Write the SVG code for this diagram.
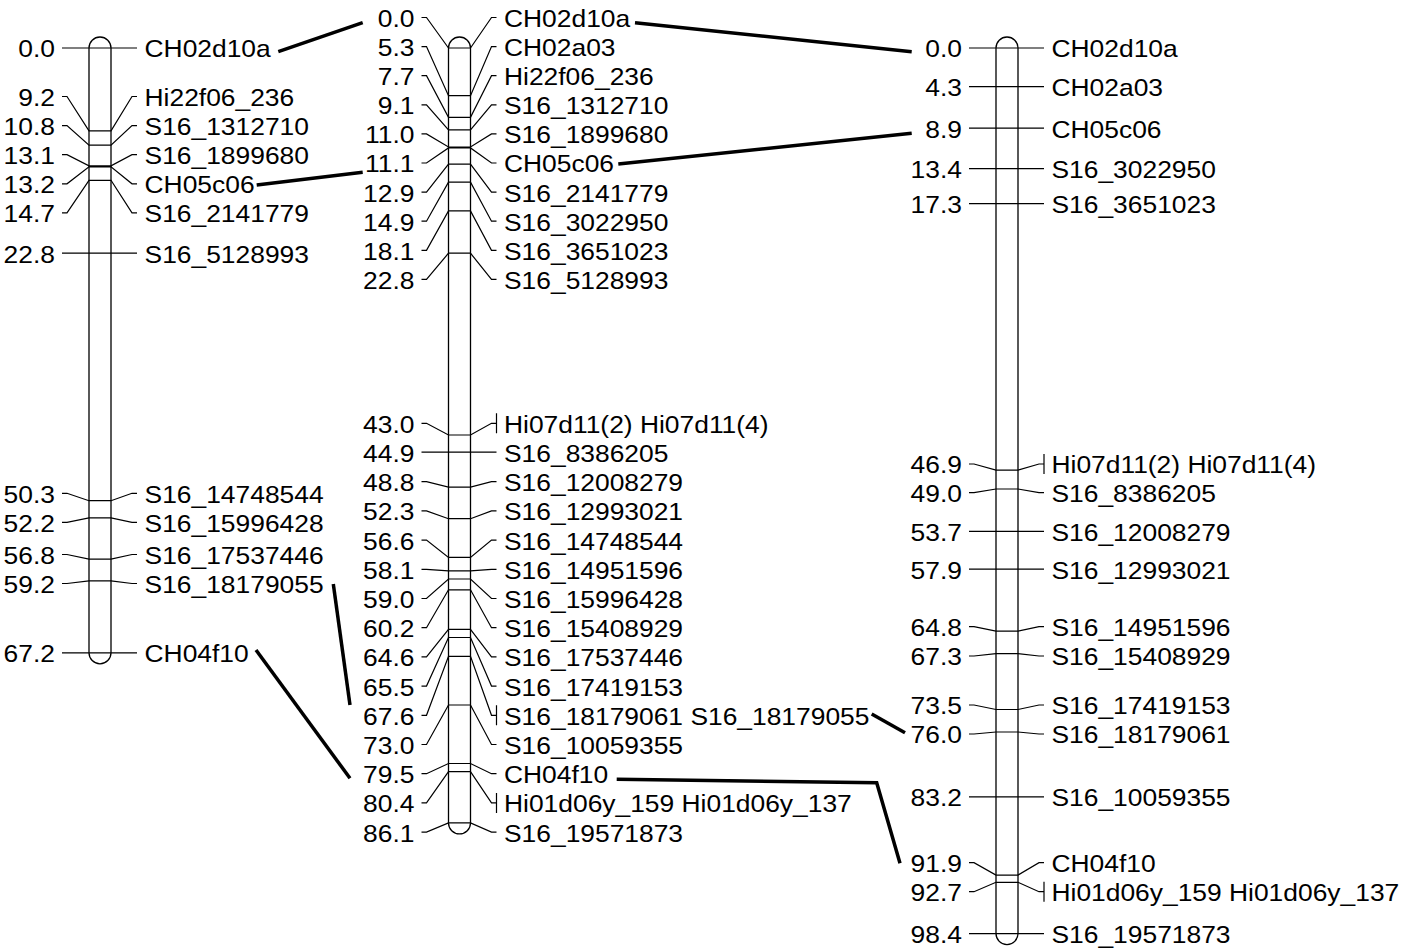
<svg xmlns="http://www.w3.org/2000/svg" width="1408" height="952" viewBox="0 0 1408 952">
<style>
text{font-family:"Liberation Sans",Arial,sans-serif;font-size:24px;fill:#000}
.n{text-anchor:end}
.l{text-anchor:start}
.chr{fill:#fff;stroke:#000;stroke-width:1.3}
.tk{fill:none;stroke:#000;stroke-width:1.2}
.cn{fill:none;stroke:#000;stroke-width:3.5}
</style>
<rect width="1408" height="952" fill="#fff"/>
<g id="chr-left">
<path class="chr" d="M89 48A11 11 0 0 1 111 48V652.8A11 11 0 0 1 89 652.8Z"/>
<path class="tk" d="M62 48H137M62 96.5H67L89 130.8H111L132 96.5H137M62 125.6H67L89 145.2H111L132 125.6H137M62 154.7H67L89 165.9H111L132 154.7H137M62 183.8H67L89 166.8H111L132 183.8H137M62 212.9H67L89 180.3H111L132 212.9H137M62 253.2H137M62 493.3H67L89 500.7H111L132 493.3H137M62 522.3H67L89 517.8H111L132 522.3H137M62 554.5H67L89 559.2H111L132 554.5H137M62 583.5H67L89 580.8H111L132 583.5H137M62 652.8H137"/>
<g transform="scale(1.1 1)">
<text class="n" x="50" y="57.5">0.0</text><text class="l" x="131.4" y="57.5">CH02d10a</text>
<text class="n" x="50" y="106">9.2</text><text class="l" x="131.4" y="106">Hi22f06_236</text>
<text class="n" x="50" y="135.1">10.8</text><text class="l" x="131.4" y="135.1">S16_1312710</text>
<text class="n" x="50" y="164.2">13.1</text><text class="l" x="131.4" y="164.2">S16_1899680</text>
<text class="n" x="50" y="193.3">13.2</text><text class="l" x="131.4" y="193.3">CH05c06</text>
<text class="n" x="50" y="222.4">14.7</text><text class="l" x="131.4" y="222.4">S16_2141779</text>
<text class="n" x="50" y="262.7">22.8</text><text class="l" x="131.4" y="262.7">S16_5128993</text>
<text class="n" x="50" y="502.8">50.3</text><text class="l" x="131.4" y="502.8">S16_14748544</text>
<text class="n" x="50" y="531.8">52.2</text><text class="l" x="131.4" y="531.8">S16_15996428</text>
<text class="n" x="50" y="564">56.8</text><text class="l" x="131.4" y="564">S16_17537446</text>
<text class="n" x="50" y="593">59.2</text><text class="l" x="131.4" y="593">S16_18179055</text>
<text class="n" x="50" y="662.3">67.2</text><text class="l" x="131.4" y="662.3">CH04f10</text>
</g>
</g>
<g id="chr-middle">
<path class="chr" d="M448.5 48A11 11 0 0 1 470.5 48V822.9A11 11 0 0 1 448.5 822.9Z"/>
<path class="tk" d="M421.5 17.5H426.5L448.5 48H470.5L491.5 17.5H496.5M421.5 46.6H426.5L448.5 95.7H470.5L491.5 46.6H496.5M421.5 75.7H426.5L448.5 117.3H470.5L491.5 75.7H496.5M421.5 104.8H426.5L448.5 129.9H470.5L491.5 104.8H496.5M421.5 133.9H426.5L448.5 147H470.5L491.5 133.9H496.5M421.5 163H426.5L448.5 147.9H470.5L491.5 163H496.5M421.5 192.1H426.5L448.5 164.1H470.5L491.5 192.1H496.5M421.5 221.2H426.5L448.5 182.1H470.5L491.5 221.2H496.5M421.5 250.3H426.5L448.5 210.9H470.5L491.5 250.3H496.5M421.5 279.4H426.5L448.5 253.2H470.5L491.5 279.4H496.5
M421.5 423.3H426.5L448.5 435H470.5L491.5 423.3H496.5M496.5 413.3V433.3
M421.5 452.1H496.5
M421.5 481.7H426.5L448.5 487.2H470.5L491.5 481.7H496.5
M421.5 510.9H426.5L448.5 518.7H470.5L491.5 510.9H496.5
M421.5 540.1H426.5L448.5 557.4H470.5L491.5 540.1H496.5
M421.5 569.3H426.5L448.5 570.9H470.5L491.5 569.3H496.5
M421.5 598.5H426.5L448.5 579H470.5L491.5 598.5H496.5
M421.5 627.7H426.5L448.5 589.8H470.5L491.5 627.7H496.5
M421.5 656.9H426.5L448.5 629.4H470.5L491.5 656.9H496.5
M421.5 686.1H426.5L448.5 637.5H470.5L491.5 686.1H496.5
M421.5 715.3H426.5L448.5 656.4H470.5L491.5 715.3H496.5M496.5 705.3V725.3
M421.5 744.5H426.5L448.5 705H470.5L491.5 744.5H496.5
M421.5 773.7H426.5L448.5 763.5H470.5L491.5 773.7H496.5
M421.5 802.9H426.5L448.5 771.6H470.5L491.5 802.9H496.5M496.5 792.9V812.9
M421.5 832.1H426.5L448.5 822.9H470.5L491.5 832.1H496.5"/>
<g transform="scale(1.1 1)">
<text class="n" x="376.8" y="27">0.0</text><text class="l" x="458.2" y="27">CH02d10a</text>
<text class="n" x="376.8" y="56.1">5.3</text><text class="l" x="458.2" y="56.1">CH02a03</text>
<text class="n" x="376.8" y="85.2">7.7</text><text class="l" x="458.2" y="85.2">Hi22f06_236</text>
<text class="n" x="376.8" y="114.3">9.1</text><text class="l" x="458.2" y="114.3">S16_1312710</text>
<text class="n" x="376.8" y="143.4">11.0</text><text class="l" x="458.2" y="143.4">S16_1899680</text>
<text class="n" x="376.8" y="172.5">11.1</text><text class="l" x="458.2" y="172.5">CH05c06</text>
<text class="n" x="376.8" y="201.6">12.9</text><text class="l" x="458.2" y="201.6">S16_2141779</text>
<text class="n" x="376.8" y="230.7">14.9</text><text class="l" x="458.2" y="230.7">S16_3022950</text>
<text class="n" x="376.8" y="259.8">18.1</text><text class="l" x="458.2" y="259.8">S16_3651023</text>
<text class="n" x="376.8" y="288.9">22.8</text><text class="l" x="458.2" y="288.9">S16_5128993</text>
<text class="n" x="376.8" y="432.8">43.0</text><text class="l" x="458.2" y="432.8">Hi07d11(2) Hi07d11(4)</text>
<text class="n" x="376.8" y="461.6">44.9</text><text class="l" x="458.2" y="461.6">S16_8386205</text>
<text class="n" x="376.8" y="491.2">48.8</text><text class="l" x="458.2" y="491.2">S16_12008279</text>
<text class="n" x="376.8" y="520.4">52.3</text><text class="l" x="458.2" y="520.4">S16_12993021</text>
<text class="n" x="376.8" y="549.6">56.6</text><text class="l" x="458.2" y="549.6">S16_14748544</text>
<text class="n" x="376.8" y="578.8">58.1</text><text class="l" x="458.2" y="578.8">S16_14951596</text>
<text class="n" x="376.8" y="608">59.0</text><text class="l" x="458.2" y="608">S16_15996428</text>
<text class="n" x="376.8" y="637.2">60.2</text><text class="l" x="458.2" y="637.2">S16_15408929</text>
<text class="n" x="376.8" y="666.4">64.6</text><text class="l" x="458.2" y="666.4">S16_17537446</text>
<text class="n" x="376.8" y="695.6">65.5</text><text class="l" x="458.2" y="695.6">S16_17419153</text>
<text class="n" x="376.8" y="724.8">67.6</text><text class="l" x="458.2" y="724.8">S16_18179061 S16_18179055</text>
<text class="n" x="376.8" y="754">73.0</text><text class="l" x="458.2" y="754">S16_10059355</text>
<text class="n" x="376.8" y="783.2">79.5</text><text class="l" x="458.2" y="783.2">CH04f10</text>
<text class="n" x="376.8" y="812.4">80.4</text><text class="l" x="458.2" y="812.4">Hi01d06y_159 Hi01d06y_137</text>
<text class="n" x="376.8" y="841.6">86.1</text><text class="l" x="458.2" y="841.6">S16_19571873</text>
</g>
</g>
<g id="chr-right">
<path class="chr" d="M996 48A11 11 0 0 1 1018 48V933.6A11 11 0 0 1 996 933.6Z"/>
<path class="tk" d="M969 48H1044M969 86.7H1044M969 128.1H1044M969 168.6H1044M969 203.7H1044
M969 464H974L996 470.1H1018L1039 464H1044M1044 454V474
M969 492.7H974L996 489H1018L1039 492.7H1044
M969 531.3H1044M969 569.1H1044
M969 626.7H974L996 631.2H1018L1039 626.7H1044
M969 656H974L996 653.7H1018L1039 656H1044
M969 705H974L996 709.5H1018L1039 705H1044
M969 734H974L996 732H1018L1039 734H1044
M969 796.8H1044
M969 862.7H974L996 875.1H1018L1039 862.7H1044
M969 891.7H974L996 882.3H1018L1039 891.7H1044M1044 881.7V901.7
M969 933.6H1044"/>
<g transform="scale(1.1 1)">
<text class="n" x="874.5" y="57.5">0.0</text><text class="l" x="955.9" y="57.5">CH02d10a</text>
<text class="n" x="874.5" y="96.2">4.3</text><text class="l" x="955.9" y="96.2">CH02a03</text>
<text class="n" x="874.5" y="137.6">8.9</text><text class="l" x="955.9" y="137.6">CH05c06</text>
<text class="n" x="874.5" y="178.1">13.4</text><text class="l" x="955.9" y="178.1">S16_3022950</text>
<text class="n" x="874.5" y="213.2">17.3</text><text class="l" x="955.9" y="213.2">S16_3651023</text>
<text class="n" x="874.5" y="473.5">46.9</text><text class="l" x="955.9" y="473.5">Hi07d11(2) Hi07d11(4)</text>
<text class="n" x="874.5" y="502.2">49.0</text><text class="l" x="955.9" y="502.2">S16_8386205</text>
<text class="n" x="874.5" y="540.8">53.7</text><text class="l" x="955.9" y="540.8">S16_12008279</text>
<text class="n" x="874.5" y="578.6">57.9</text><text class="l" x="955.9" y="578.6">S16_12993021</text>
<text class="n" x="874.5" y="636.2">64.8</text><text class="l" x="955.9" y="636.2">S16_14951596</text>
<text class="n" x="874.5" y="665.5">67.3</text><text class="l" x="955.9" y="665.5">S16_15408929</text>
<text class="n" x="874.5" y="714.5">73.5</text><text class="l" x="955.9" y="714.5">S16_17419153</text>
<text class="n" x="874.5" y="743.5">76.0</text><text class="l" x="955.9" y="743.5">S16_18179061</text>
<text class="n" x="874.5" y="806.3">83.2</text><text class="l" x="955.9" y="806.3">S16_10059355</text>
<text class="n" x="874.5" y="872.2">91.9</text><text class="l" x="955.9" y="872.2">CH04f10</text>
<text class="n" x="874.5" y="901.2">92.7</text><text class="l" x="955.9" y="901.2">Hi01d06y_159 Hi01d06y_137</text>
<text class="n" x="874.5" y="943.1">98.4</text><text class="l" x="955.9" y="943.1">S16_19571873</text>
</g>
</g>
<g id="connectors">
<path class="cn" d="M278.3 51.7L362.7 22.7"/>
<path class="cn" d="M256.7 185L362.7 172.3"/>
<path class="cn" d="M333.3 584L350 705"/>
<path class="cn" d="M256 650L350 778.3"/>
<path class="cn" d="M635 22.7L911.7 51.7"/>
<path class="cn" d="M618.3 164L911.7 133.3"/>
<path class="cn" d="M871.7 714L905 732.7"/>
<path class="cn" d="M616.7 779.3L876.7 782.7L900 863.3"/>
</g>
</svg>
